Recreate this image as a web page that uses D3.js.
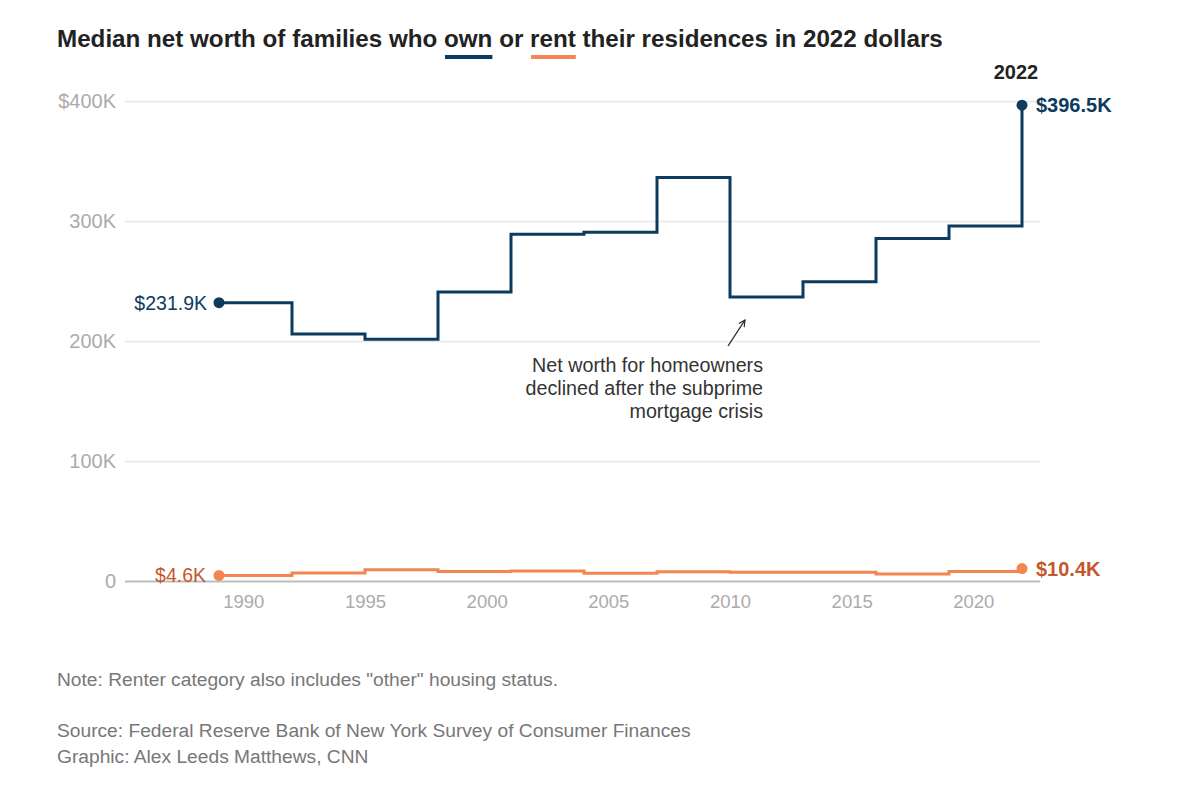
<!DOCTYPE html>
<html>
<head>
<meta charset="utf-8">
<script src="https://cdn.jsdelivr.net/npm/d3@7"></script>
<style>
  body { margin: 0; background: #fff; }
  svg text { font-family: "Liberation Sans", Arial, Helvetica, sans-serif; }
</style>
</head>
<body>
<div id="chart"></div>
<script>
// survey years and medians (thousands, 2022 dollars)
var years = [1989, 1992, 1995, 1998, 2001, 2004, 2007, 2010, 2013, 2016, 2019, 2022];
var owners = [231.9, 205.8, 201.4, 240.8, 289.0, 290.6, 336.3, 236.6, 249.3, 285.5, 295.8, 396.5];
var renters = [4.6, 6.6, 9.4, 7.9, 8.4, 6.5, 7.8, 7.2, 7.2, 5.9, 7.9, 10.4];
var yTicks = [0, 100, 200, 300, 400];
var xTicks = [1990, 1995, 2000, 2005, 2010, 2015, 2020];

var navy = '#0c3b5e', orange = '#f58550', orangeDark = '#c4572d';
var width = 1198, height = 800;
var gridLeft = 125, gridRight = 1040;

var svg = d3.select('#chart').append('svg').attr('width', width).attr('height', height);

var x = d3.scaleLinear().domain([1989, 2022]).range([219, 1022]);
var y = d3.scaleLinear().domain([0, 400]).range([581, 101]);

// title with the legend underlines
var title = svg.append('text')
  .attr('x', 57).attr('y', 47)
  .attr('font-size', 24.2).attr('font-weight', 'bold').attr('fill', '#222');
title.append('tspan').text('Median net worth of families who ');
var tOwn = title.append('tspan').text('own');
title.append('tspan').text(' or ');
var tRent = title.append('tspan').text('rent');
title.append('tspan').text(' their residences in 2022 dollars');

[[tOwn, navy], [tRent, orange]].forEach(function(p) {
  var b = p[0].node().getBBox();
  svg.append('line')
    .attr('x1', b.x + 1).attr('x2', b.x + b.width)
    .attr('y1', 57).attr('y2', 57)
    .attr('stroke', p[1]).attr('stroke-width', 4);
});

// y grid
var yAxis = svg.append('g')
  .attr('transform', 'translate(' + gridLeft + ',0)')
  .call(d3.axisLeft(y).tickValues(yTicks)
    .tickSize(-(gridRight - gridLeft)).tickPadding(9)
    .tickFormat(function(d) { return d == 0 ? '0' : (d == 400 ? '$' : '') + d + 'K'; }));
yAxis.select('.domain').remove();
yAxis.selectAll('line')
  .attr('stroke', function(d) { return d == 0 ? '#bdbdbd' : '#e8e8e8'; })
  .attr('stroke-width', function(d) { return d == 0 ? 2 : 1.5; });
yAxis.selectAll('text').attr('font-size', 20).attr('fill', '#ababab');

// x axis labels
var xAxis = svg.append('g')
  .attr('transform', 'translate(0,' + 581 + ')')
  .call(d3.axisBottom(x).tickValues(xTicks).tickSize(0).tickPadding(14).tickFormat(d3.format('d')));
xAxis.select('.domain').remove();
xAxis.selectAll('text').attr('font-size', 18.5).attr('fill', '#ababab');

var line = d3.line().curve(d3.curveStepAfter)
  .x(function(d) { return x(d[0]); })
  .y(function(d) { return y(d[1]); });

function series(vals, color) {
  var pts = years.map(function(yr, i) { return [yr, vals[i]]; });
  svg.append('path').datum(pts)
    .attr('d', line).attr('fill', 'none')
    .attr('stroke', color).attr('stroke-width', 3);
  svg.selectAll(null).data([pts[0], pts[pts.length - 1]]).enter().append('circle')
    .attr('cx', function(d) { return x(d[0]); })
    .attr('cy', function(d) { return y(d[1]); })
    .attr('r', 5.5).attr('fill', color);
  return pts;
}
var own = series(owners, navy);
var rent = series(renters, orange);

function fmt(v) { return '$' + v.toFixed(1) + 'K'; }

// start labels
svg.append('text').attr('x', x(own[0][0]) - 12).attr('y', y(own[0][1])).attr('dy', '0.35em')
  .attr('text-anchor', 'end').attr('font-size', 19.5).attr('fill', navy).text(fmt(own[0][1]));
svg.append('text').attr('x', x(rent[0][0]) - 13).attr('y', y(rent[0][1])).attr('dy', '0.35em')
  .attr('text-anchor', 'end').attr('font-size', 19.5).attr('fill', orangeDark).text(fmt(rent[0][1]));

// end labels
var last = own.length - 1;
svg.append('text').attr('x', x(own[last][0]) + 14).attr('y', y(own[last][1])).attr('dy', '0.35em')
  .attr('font-size', 20).attr('font-weight', 'bold').attr('fill', navy).text(fmt(own[last][1]));
svg.append('text').attr('x', x(rent[last][0]) + 14).attr('y', y(rent[last][1])).attr('dy', '0.35em')
  .attr('font-size', 20).attr('font-weight', 'bold').attr('fill', orangeDark).text(fmt(rent[last][1]));
svg.append('text').attr('x', x(2022) - 6).attr('y', 79).attr('text-anchor', 'middle')
  .attr('font-size', 20).attr('font-weight', 'bold').attr('fill', '#222').text('2022');

// annotation
var note = ['Net worth for homeowners', 'declined after the subprime', 'mortgage crisis'];
svg.append('text').attr('text-anchor', 'end').attr('font-size', 19.7).attr('fill', '#333')
  .selectAll('tspan').data(note).enter().append('tspan')
  .attr('x', 763).attr('y', function(d, i) { return 372 + i * 23; })
  .text(function(d) { return d; });

svg.append('defs').append('marker')
  .attr('id', 'arr').attr('viewBox', '0 0 10 10').attr('refX', 9).attr('refY', 5)
  .attr('markerWidth', 8).attr('markerHeight', 8).attr('orient', 'auto-start-reverse')
  .attr('markerUnits', 'userSpaceOnUse')
  .append('path').attr('d', 'M1,1 L9,5 L1,9').attr('fill', 'none')
  .attr('stroke', '#222').attr('stroke-width', 1.4);
svg.append('line').attr('x1', 728).attr('y1', 346).attr('x2', 745).attr('y2', 320)
  .attr('stroke', '#222').attr('stroke-width', 1.3).attr('marker-end', 'url(#arr)');

// footer
var foot = [['Note: Renter category also includes "other" housing status.', 686],
  ['Source: Federal Reserve Bank of New York Survey of Consumer Finances', 737],
  ['Graphic: Alex Leeds Matthews, CNN', 763]];
svg.selectAll('.foot').data(foot).enter().append('text').attr('class', 'foot')
  .attr('x', 57).attr('y', function(d) { return d[1]; })
  .attr('font-size', 19.2).attr('fill', '#777')
  .text(function(d) { return d[0]; });
</script>
</body>
</html>
